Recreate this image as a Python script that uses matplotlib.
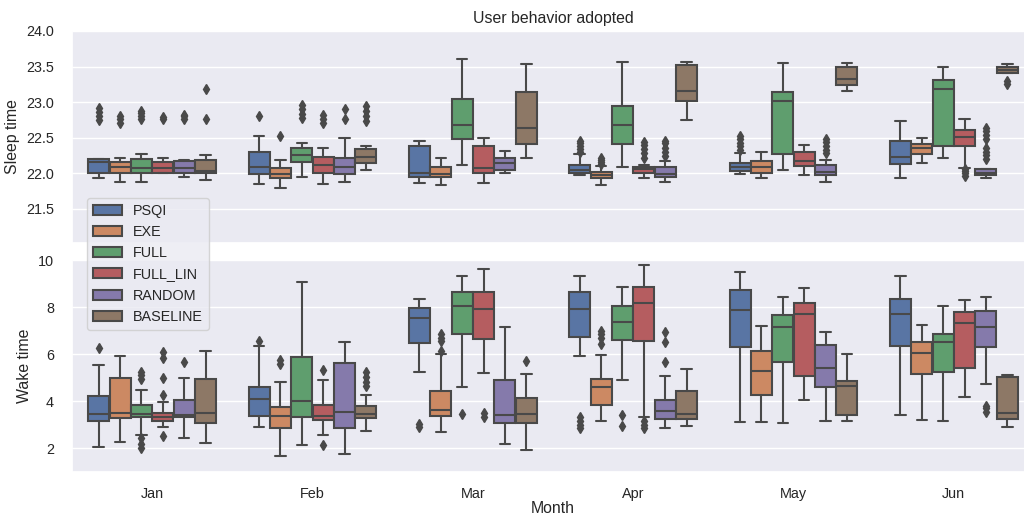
#箱线图：入睡时间 / 醒来时间 按月份和策略
import colorsys
import numpy as np
import matplotlib
matplotlib.use('Agg')
import matplotlib.pyplot as plt
from matplotlib.patches import Patch
import seaborn as sns

months = ['Jan', 'Feb', 'Mar', 'Apr', 'May', 'Jun']
groups = ['PSQI', 'EXE', 'FULL', 'FULL_LIN', 'RANDOM', 'BASELINE']

# sleep time, rows = months, cols = groups
sleep_lo = [[21.94, 21.88, 21.88, 22.00, 21.95, 21.90],
            [21.85, 21.80, 21.95, 21.85, 21.88, 22.04],
            [21.87, 21.84, 22.12, 21.87, 22.00, 22.21],
            [21.97, 21.84, 22.09, 21.94, 21.88, 22.75],
            [21.99, 21.94, 22.04, 21.97, 21.88, 23.15],
            [21.94, 22.14, 22.22, 22.08, 21.94, 23.41]]
sleep_q1 = [[22.00, 22.01, 22.00, 22.01, 22.00, 22.01],
            [21.99, 21.93, 22.16, 22.01, 21.99, 22.14],
            [21.95, 21.95, 22.48, 22.01, 22.05, 22.41],
            [22.00, 21.94, 22.41, 22.00, 21.95, 23.02],
            [22.03, 22.01, 22.27, 22.10, 21.98, 23.24],
            [22.13, 22.27, 22.38, 22.39, 21.98, 23.41]]
sleep_med = [[22.155, 22.09, 22.08, 22.07, 22.08, 22.03],
             [22.09, 21.99, 22.25, 22.11, 22.09, 22.23],
             [22.01, 21.99, 22.68, 22.07, 22.15, 22.63],
             [22.05, 21.98, 22.68, 22.06, 21.99, 23.15],
             [22.09, 22.09, 23.01, 22.17, 22.02, 23.33],
             [22.23, 22.35, 23.19, 22.51, 22.01, 23.45]]
sleep_q3 = [[22.20, 22.16, 22.205, 22.16, 22.17, 22.19],
            [22.30, 22.08, 22.36, 22.23, 22.21, 22.34],
            [22.39, 22.09, 23.05, 22.39, 22.22, 23.14],
            [22.12, 22.02, 22.95, 22.09, 22.09, 23.52],
            [22.15, 22.17, 23.14, 22.30, 22.12, 23.50],
            [22.46, 22.41, 23.31, 22.61, 22.06, 23.50]]
sleep_hi = [[22.20, 22.22, 22.27, 22.22, 22.19, 22.25],
            [22.52, 22.19, 22.42, 22.35, 22.49, 22.38],
            [22.45, 22.22, 23.60, 22.50, 22.32, 23.53],
            [22.27, 22.10, 23.57, 22.12, 22.17, 23.57],
            [22.29, 22.30, 23.55, 22.40, 22.19, 23.55],
            [22.74, 22.50, 23.50, 22.77, 22.06, 23.54]]
sleep_fliers = [
    [[22.75, 22.8, 22.86, 22.92], [22.71, 22.76, 22.8], [22.76, 22.8, 22.85, 22.88],
     [22.76, 22.79], [22.76, 22.8, 22.82], [22.77, 23.19]],
    [[22.8], [22.52], [22.78, 22.84, 22.9, 22.96], [22.7, 22.76, 22.82],
     [22.76, 22.9], [22.74, 22.8, 22.87, 22.94]],
    [[], [], [], [], [], []],
    [[22.3, 22.34, 22.38, 22.42, 22.45], [22.13, 22.16, 22.19, 22.22], [],
     [22.22, 22.28, 22.34, 22.4, 22.44], [22.24, 22.3, 22.36, 22.42, 22.45], []],
    [[22.33, 22.38, 22.43, 22.48, 22.52], [], [], [],
     [22.28, 22.33, 22.38, 22.44, 22.48], []],
    [[], [], [], [21.96, 22.0, 22.03, 22.06],
     [22.2, 22.25, 22.3, 22.35, 22.48, 22.54, 22.6, 22.64], [23.26, 23.3]]]

# wake time
wake_lo = [[2.07, 2.28, 2.59, 2.92, 2.45, 2.21],
           [2.92, 1.68, 2.13, 2.56, 1.75, 2.76],
           [5.23, 2.69, 4.59, 5.21, 2.20, 1.92],
           [5.94, 3.18, 4.91, 3.34, 2.87, 2.97],
           [3.11, 3.11, 3.08, 4.07, 3.15, 3.15],
           [3.41, 3.20, 3.18, 4.18, 4.74, 2.90]]
wake_q1 = [[3.15, 3.29, 3.34, 3.18, 3.32, 3.08],
           [3.39, 2.87, 3.32, 3.20, 2.85, 3.29],
           [6.46, 3.37, 6.85, 6.64, 3.06, 3.08],
           [6.74, 3.83, 6.60, 6.55, 3.27, 3.27],
           [6.31, 4.28, 5.65, 5.09, 4.60, 3.41],
           [6.34, 5.15, 5.23, 5.40, 6.31, 3.25]]
wake_med = [[3.48, 3.49, 3.48, 3.32, 3.44, 3.51],
            [4.10, 3.39, 4.03, 3.37, 3.55, 3.48],
            [7.54, 3.65, 8.04, 7.93, 3.44, 3.48],
            [7.93, 4.59, 7.37, 8.17, 3.58, 3.48],
            [7.89, 5.29, 7.16, 7.72, 5.43, 4.67],
            [7.71, 6.06, 6.50, 7.33, 7.16, 3.52]]
wake_q3 = [[4.24, 5.01, 3.84, 3.51, 4.07, 4.95],
           [4.59, 3.76, 5.89, 3.86, 5.64, 3.79],
           [7.96, 4.45, 8.63, 8.66, 4.91, 4.14],
           [8.66, 4.94, 8.04, 8.84, 4.04, 4.45],
           [8.73, 6.15, 7.65, 8.17, 6.38, 4.88],
           [8.35, 6.50, 6.85, 7.79, 7.83, 5.02]]
wake_hi = [[5.54, 5.91, 4.49, 3.96, 5.01, 6.13],
           [6.36, 4.84, 9.05, 4.92, 6.50, 4.25],
           [8.35, 5.99, 9.33, 9.62, 7.16, 5.15],
           [9.31, 5.96, 8.84, 9.80, 5.09, 5.37],
           [9.47, 7.20, 8.42, 8.80, 6.95, 5.99],
           [9.31, 7.23, 8.03, 8.32, 8.41, 5.12]]
wake_fliers = [
    [[6.27], [], [2.03, 2.2, 2.45, 4.96, 5.1, 5.25], [2.52, 4.28, 4.98, 5.85, 6.1],
     [5.68], []],
    [[6.55], [5.6, 5.75], [], [2.14, 5.33], [], [4.65, 4.8, 5.05, 5.25]],
    [[2.9, 3.05], [6.15, 6.55, 6.7, 6.85], [3.48], [3.35, 3.5], [], [5.71]],
    [[2.85, 3.0, 3.15, 3.35], [6.45, 6.7, 6.85, 7.0], [2.95, 3.4], [2.85, 3.0, 3.15],
     [5.68, 6.5, 6.95], []],
    [[], [], [], [], [], []],
    [[], [], [], [], [3.55, 3.7, 3.8], []]]

sns.set_theme()
plt.rcParams['font.family'] = ['Liberation Sans', 'DejaVu Sans']

pal = [sns.desaturate(c, 0.75) for c in sns.color_palette('deep', 6)]
lum = min(colorsys.rgb_to_hls(*c)[1] for c in pal) * .6
gray = (lum, lum, lum)
lw = 1.5
hue_w = 0.8 / len(groups)


def draw_boxes(ax, lo, q1, med, q3, hi, fl):
    for j in range(len(groups)):
        stats = []
        for i in range(len(months)):
            stats.append(dict(whislo=lo[i][j], q1=q1[i][j], med=med[i][j],
                              q3=q3[i][j], whishi=hi[i][j], fliers=fl[i][j]))
        pos = np.arange(len(months)) + (j - (len(groups) - 1) / 2) * hue_w
        ax.bxp(stats, positions=pos, widths=hue_w * 0.98, patch_artist=True,
               manage_ticks=False,
               boxprops=dict(facecolor=pal[j], edgecolor=gray, linewidth=lw),
               medianprops=dict(color=gray, linewidth=lw),
               whiskerprops=dict(color=gray, linewidth=lw),
               capprops=dict(color=gray, linewidth=lw),
               flierprops=dict(marker='d', markersize=5, markerfacecolor=gray,
                               markeredgecolor=gray, linestyle='none'))


fig = plt.figure(figsize=(10.24, 5.17), dpi=100)
W, H = 1024, 517
ax1 = fig.add_axes([72 / W, 1 - 243 / H, 962 / W, 212 / H])
ax2 = fig.add_axes([72 / W, 1 - 472 / H, 962 / W, 212 / H])

draw_boxes(ax1, sleep_lo, sleep_q1, sleep_med, sleep_q3, sleep_hi, sleep_fliers)
draw_boxes(ax2, wake_lo, wake_q1, wake_med, wake_q3, wake_hi, wake_fliers)

for ax in (ax1, ax2):
    ax.set_xlim(-0.5, len(months) - 0.5)
    ax.xaxis.grid(False)
    ax.tick_params(labelsize=10.4, pad=7)
ax2.tick_params(axis='x', pad=5)

ax1.set_ylim(21.02, 24.0)
ax1.set_yticks([21.5, 22.0, 22.5, 23.0, 23.5, 24.0])
ax1.set_xticks(range(len(months)))
ax1.set_xticklabels([])
ax1.set_ylabel('Sleep time', fontsize=11.4)
ax1.set_title('User behavior adopted', fontsize=11.4)

ax2.set_ylim(1, 10)
ax2.set_yticks([2, 4, 6, 8, 10])
ax2.set_xticks(range(len(months)))
ax2.set_xticklabels(months)
ax2.set_ylabel('Wake time', fontsize=11.4)
ax2.set_xlabel('Month', fontsize=11.4, labelpad=0)

handles = [Patch(facecolor=pal[j], edgecolor=gray, linewidth=lw, label=g)
           for j, g in enumerate(groups)]
fig.legend(handles=handles, loc='upper left', bbox_to_anchor=(87 / W, 1 - 198 / H),
           borderaxespad=0, fontsize=10.4)

plt.savefig('out.png', dpi=100)
